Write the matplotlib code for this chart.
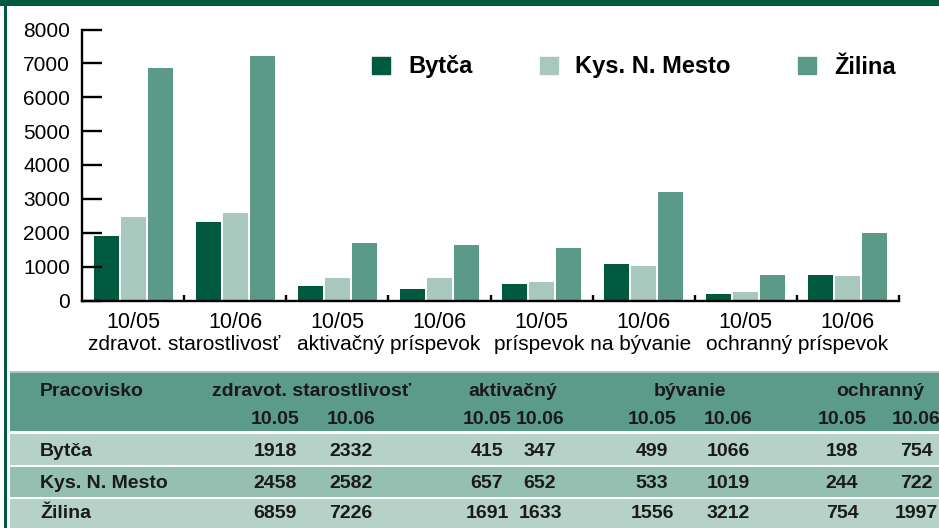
import numpy as np
import matplotlib
matplotlib.use("Agg")
import matplotlib.pyplot as plt
from matplotlib.patches import Rectangle, Patch

# ---- data ----
periods = ["10/05", "10/06"]
categories = ["zdravot. starostlivosť", "aktivačný príspevok", "príspevok na bývanie", "ochranný príspevok"]
series = ["Bytča", "Kys. N. Mesto", "Žilina"]
bytca = [1918, 2332, 415, 347, 499, 1066, 198, 754]
kys = [2458, 2582, 657, 652, 533, 1019, 244, 722]
zilina = [6859, 7226, 1691, 1633, 1556, 3212, 754, 1997]
table_heads = ["zdravot. starostlivosť", "aktivačný", "bývanie", "ochranný"]
table_periods = ["10.05", "10.06"]

DARK, LIGHT, MID = "#005a3f", "#a8c8bd", "#5b9a88"
colors = [DARK, LIGHT, MID]

plt.rcParams["font.family"] = ["Liberation Sans", "DejaVu Sans"]

W, H = 939, 528
fig = plt.figure(figsize=(W / 100, H / 100), dpi=100)

def fx(x): return x / W
def fy(y): return 1 - y / H

# frame decorations
fig.add_artist(Rectangle((0, fy(5.5)), 1, 5.5 / H, transform=fig.transFigure, color=DARK, lw=0))
fig.add_artist(Rectangle((fx(4), 0), 3 / W, 1, transform=fig.transFigure, color=DARK, lw=0))

# ---- bar chart ----
ax = fig.add_axes([fx(82), fy(300.5), 817 / W, 271 / H])
x = np.arange(len(bytca)) + 0.5
for k, (vals, c, nm) in enumerate(zip([bytca, kys, zilina], colors, series)):
    ax.bar(x + (k - 1) * 0.264, vals, 0.245, color=c, label=nm)
ax.set_xlim(0, 8)
ax.set_ylim(0, 8000)
for s in ["top", "right"]:
    ax.spines[s].set_visible(False)
for s in ["left", "bottom"]:
    ax.spines[s].set_linewidth(1.7)
ax.set_yticks(np.arange(0, 8001, 1000))
ax.tick_params(axis="y", direction="in", length=14.5, width=1.7, labelsize=15, pad=8.5)
ax.set_xticks(np.arange(1, 9))
ax.set_xticklabels([])
ax.tick_params(axis="x", which="major", direction="in", length=4, width=1.7)
ax.set_xticks(x, minor=True)
ax.set_xticklabels(periods * 4, minor=True)
ax.tick_params(axis="x", which="minor", length=0, labelsize=15.5, pad=8.5)
for i, cat in enumerate(categories):
    ax.annotate(cat, xy=(2 * i + 1, 0), xycoords=("data", "axes fraction"),
                xytext=(0, -44.5 * 0.72), textcoords="offset points",
                ha="center", va="center", fontsize=15)

handles = [Patch(color=c) for c in colors]
fig.legend(handles, series, loc="center left", bbox_to_anchor=(fx(372), fy(67)),
           ncol=3, frameon=False, borderpad=0, borderaxespad=0,
           handlelength=0.76, handleheight=0.76, handletextpad=0.76, columnspacing=2.85,
           prop={"family": "Liberation Sans", "weight": "bold", "size": 17})

# ---- table ----
def band(y0, y1, c):
    fig.add_artist(Rectangle((fx(10), fy(y1)), 1 - fx(10), (y1 - y0) / H,
                             transform=fig.transFigure, color=c, lw=0))
band(371, 373, LIGHT)
band(373, 431, "#5c9a89")
band(434, 465, "#b5d1c8")
band(467, 496.5, "#95bfb1")
band(499, 528, "#b5d1c8")

tk = dict(family=["Liberation Sans", "DejaVu Sans"], weight="bold", fontsize=14,
          color="#1a1a1a", va="center")
col_x = [(275, 351), (487, 540), (652, 728), (842, 916)]
head_x = [312, 513, 690, 880]
fig.text(fx(40), fy(391.5), "Pracovisko", ha="left", **tk)
for hx, h, (c1, c2) in zip(head_x, table_heads, col_x):
    fig.text(fx(hx), fy(391), h, ha="center", **tk)
    fig.text(fx(c1), fy(419.5), table_periods[0], ha="center", **tk)
    fig.text(fx(c2), fy(419.5), table_periods[1], ha="center", **tk)
for yy, nm, vals in zip([451, 483, 514], series, [bytca, kys, zilina]):
    fig.text(fx(40), fy(yy), nm, ha="left", **tk)
    for j, (c1, c2) in enumerate(col_x):
        fig.text(fx(c1), fy(yy), str(vals[2 * j]), ha="center", **tk)
        fig.text(fx(c2), fy(yy), str(vals[2 * j + 1]), ha="center", **tk)

fig.savefig("out.png", dpi=100)
